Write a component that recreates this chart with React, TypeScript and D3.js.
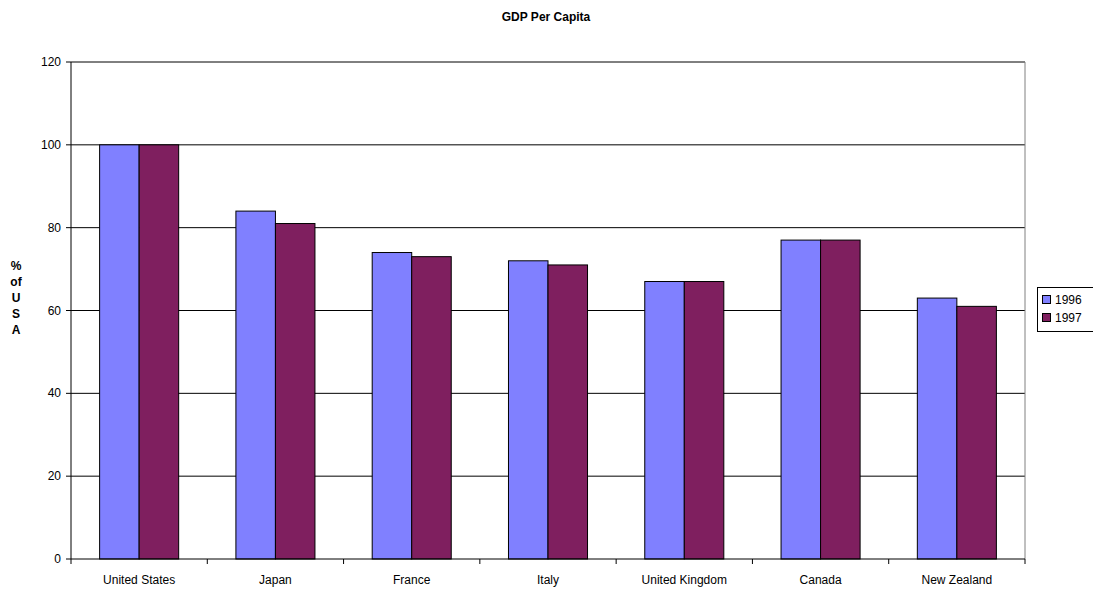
import React from "react";
import * as d3 from "d3";

const categories = ["United States", "Japan", "France", "Italy", "United Kingdom", "Canada", "New Zealand"];
const series1996 = [100, 84, 74, 72, 67, 77, 63];
const series1997 = [100, 81, 73, 71, 67, 77, 61];
const seriesNames = ["1996", "1997"];
const colors = ["#8080FF", "#7F1F5F"];
const yTicks = [0, 20, 40, 60, 80, 100, 120];
const yLabelLines = ["%", "of", "U", "S", "A"];

export default function App() {
  const W = 1093, H = 592;
  const left = 71, right = 1025, top = 62, bottom = 559;
  const x = d3.scaleBand<string>().domain(categories).range([left, right]);
  const y = d3.scaleLinear().domain([0, 120]).range([bottom, top]);
  const bw = x.bandwidth();
  const barW = bw * 0.29;
  const font = "'Liberation Sans', Arial, sans-serif";
  const data = [series1996, series1997];
  return (
    <svg width={W} height={H} style={{ position: "absolute", left: 0, top: 0 }} fontFamily={font}>
      <rect x={0} y={0} width={W} height={H} fill="#fff" />
      <text x={546} y={21} textAnchor="middle" fontSize={12} fontWeight="bold">GDP Per Capita</text>
      {yTicks.map((t) => (
        <g key={t}>
          {t > 0 && <line x1={left} x2={right} y1={y(t)} y2={y(t)} stroke="#000" strokeWidth={1} />}
          <line x1={left - 5} x2={left} y1={y(t)} y2={y(t)} stroke="#000" />
          <text x={left - 10} y={y(t) + 4} textAnchor="end" fontSize={12}>{t}</text>
        </g>
      ))}
      <line x1={right} x2={right} y1={top} y2={bottom} stroke="#808080" />
      <line x1={left} x2={right} y1={top} y2={top} stroke="#808080" />
      {categories.map((c, i) => {
        const cx = (x(c) as number) + bw / 2;
        return (
          <g key={c}>
            {data.map((s, j) => (
              <rect key={j} x={cx - barW + j * barW} y={y(s[i])} width={barW} height={bottom - y(s[i])}
                fill={colors[j]} stroke="#000" strokeWidth={1} />
            ))}
            <text x={cx} y={bottom + 25} textAnchor="middle" fontSize={12}>{c}</text>
          </g>
        );
      })}
      {categories.concat([""]).map((c, i) => {
        const xx = left + i * bw;
        return <line key={i} x1={xx} x2={xx} y1={bottom} y2={bottom + 5} stroke="#000" />;
      })}
      <line x1={left} x2={left} y1={top} y2={bottom} stroke="#000" />
      <line x1={left} x2={right} y1={bottom} y2={bottom} stroke="#000" />
      {yLabelLines.map((l, i) => (
        <text key={i} x={16} y={270 + i * 16} textAnchor="middle" fontSize={12} fontWeight="bold">{l}</text>
      ))}
      <rect x={1037.5} y={287.5} width={60} height={44} fill="#fff" stroke="#000" />
      {seriesNames.map((n, i) => (
        <g key={n}>
          <rect x={1042.5} y={295.5 + i * 18} width={8} height={8} fill={colors[i]} stroke="#000" />
          <text x={1055} y={304 + i * 18} fontSize={12}>{n}</text>
        </g>
      ))}
    </svg>
  );
}
